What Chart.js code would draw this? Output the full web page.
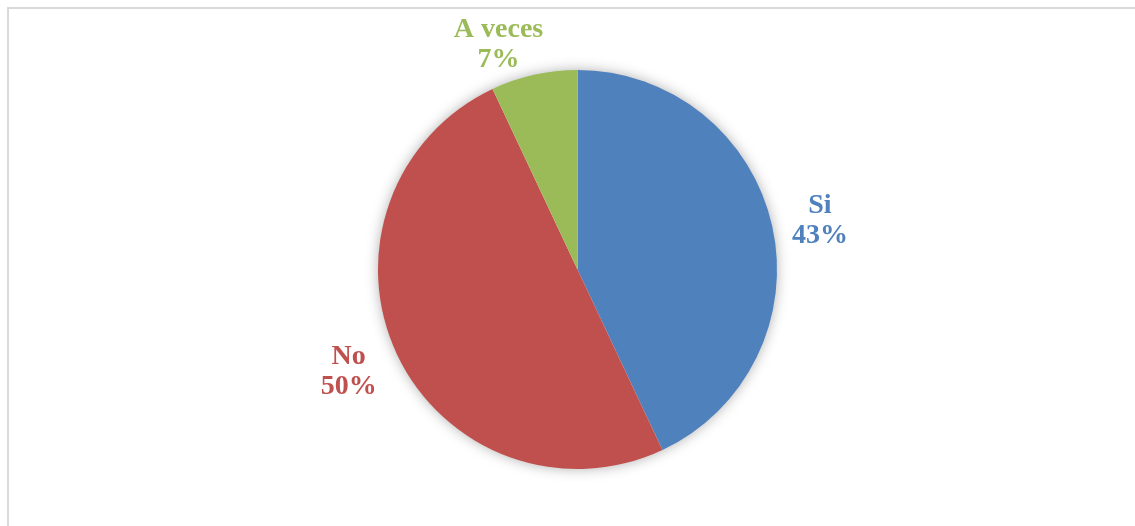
<!DOCTYPE html>
<html>
<head>
<meta charset="utf-8">
<script src="https://cdn.jsdelivr.net/npm/chart.js@4/dist/chart.umd.min.js"></script>
<style>
  body { margin: 0; background: #fff; width: 1135px; height: 526px; overflow: hidden; position: relative; }
  #frame { position: absolute; left: 7px; top: 7px; width: 1140px; height: 530px;
    border-top: 2px solid #d9d9d9; border-left: 2px solid #d9d9d9; }
  #chart { position: absolute; left: 9px; top: 9px; }
</style>
</head>
<body>
<div id="frame"></div>
<canvas id="chart" width="1126" height="517"></canvas>
<script>
const labels = ['Si', 'No', 'A veces'];
const values = [43, 50, 7];
const colors = ['#4f81bd', '#c0504d', '#9bbb59'];

// soft shadow behind the whole pie
const pieShadow = {
  id: 'pieShadow',
  beforeDatasetsDraw(chart) {
    const arc = chart.getDatasetMeta(0).data[0];
    if (!arc) return;
    const ctx = chart.ctx;
    ctx.save();
    ctx.shadowColor = 'rgba(0,0,0,0.35)';
    ctx.shadowBlur = 14;
    ctx.fillStyle = '#ffffff';
    ctx.beginPath();
    ctx.arc(arc.x, arc.y, arc.outerRadius - 1, 0, Math.PI * 2);
    ctx.fill();
    ctx.restore();
  }
};

// category name + percent outside each slice
const outsideLabels = {
  id: 'outsideLabels',
  afterDraw(chart, args, opts) {
    const ctx = chart.ctx;
    const meta = chart.getDatasetMeta(0);
    const total = values.reduce((a, b) => a + b, 0);
    ctx.save();
    ctx.font = 'bold 28px "Liberation Serif", serif';
    ctx.textAlign = 'center';
    ctx.textBaseline = 'middle';
    meta.data.forEach((arc, i) => {
      const mid = (arc.startAngle + arc.endAngle) / 2;
      const r = arc.outerRadius * 1.24;
      const nudge = opts.nudges[i] || [0, 0];
      const x = arc.x + Math.cos(mid) * r + nudge[0];
      const y = arc.y + Math.sin(mid) * r + nudge[1];
      ctx.fillStyle = colors[i];
      ctx.fillText(labels[i], x, y - 15);
      ctx.fillText(Math.round(values[i] / total * 100) + '%', x, y + 15);
    });
    ctx.restore();
  }
};

new Chart(document.getElementById('chart').getContext('2d'), {
  type: 'pie',
  data: {
    labels,
    datasets: [{
      data: values,
      backgroundColor: colors,
      borderWidth: 0
    }]
  },
  options: {
    responsive: false,
    animation: false,
    layout: { padding: { left: 369, right: 358, top: 61, bottom: 57 } },
    plugins: {
      legend: { display: false },
      tooltip: { enabled: false },
      outsideLabels: { nudges: [[1, 5], [-5, -3], [-25, 17]] }
    }
  },
  plugins: [pieShadow, outsideLabels]
});
</script>
</body>
</html>
